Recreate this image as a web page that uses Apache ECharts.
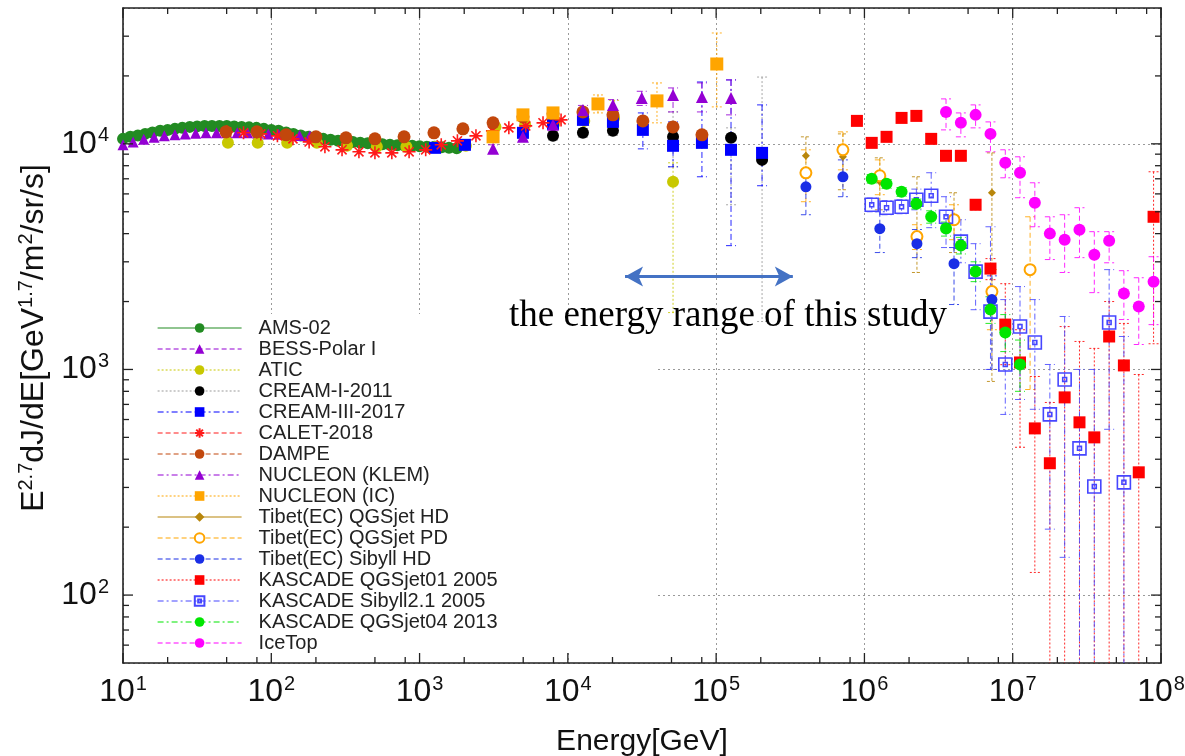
<!DOCTYPE html>
<html>
<head>
<meta charset="utf-8">
<script src="https://cdn.jsdelivr.net/npm/echarts@6/dist/echarts.min.js"></script>
<style>
html, body { margin: 0; padding: 0; background: #fff; }
#main { width: 1185px; height: 756px; }
</style>
</head>
<body>
<div id="main"></div>
<script>
// ---- data (energy in GeV, flux E^2.7 dJ/dE) ----
var amsE = [10, 11.2, 12.6, 14.1, 15.8, 17.8, 20, 22.4, 25.1, 28.2, 31.6, 35.5, 39.8, 44.7, 50.1, 56.2, 63.1, 70.8, 79.4, 89.1, 100, 112, 126, 141, 158, 178, 200, 224, 251, 282, 316, 355, 398, 447, 501, 562, 631, 708, 794, 891, 1000, 1120, 1260, 1410, 1580, 1780];
var amsV = [10520, 10740, 10900, 11070, 11240, 11420, 11530, 11650, 11770, 11890, 11950, 12010, 12010, 12010, 12010, 11950, 11890, 11830, 11770, 11650, 11530, 11420, 11240, 11070, 10900, 10740, 10630, 10520, 10420, 10310, 10260, 10200, 10100, 10050, 10000, 9950, 9900, 9850, 9800, 9800, 9750, 9700, 9700, 9650, 9600, 9550];

var bessE = [10, 11.7, 13.8, 16.2, 19, 22.4, 26.3, 30.9, 36.3, 42.7, 50.1, 58.9, 69.2, 81.3, 95.5, 112, 132, 155, 182];
var bessV = [9900, 10200, 10470, 10690, 10850, 10960, 11070, 11130, 11190, 11190, 11190, 11190, 11190, 11130, 11070, 11020, 10960, 10900, 10850];

var aticE = [51, 81, 128, 203, 324, 515, 815, 1290, 2050, 3250, 5150, 8150, 12900, 20500, 51200];
var aticV = [10100, 10100, 10100, 10100, 9800, 9700, 9700, 9700, 9800, 11890, 12140, 12390, 12640, 13030, 6790];
var aticLo = [9900, 9900, 9900, 9900, 9600, 9500, 9500, 9500, 9600, 11600, 11800, 12000, 12100, 12000, 1787];
var aticHi = [10300, 10300, 10300, 10300, 10000, 9900, 9900, 9900, 10000, 12200, 12500, 12800, 13200, 15600, 8240];

var creamIE = [7940, 12640, 20140, 51200, 126000, 204000];
var creamIV = [10850, 11190, 11420, 10740, 10630, 8490];
var creamILo = [10400, 10700, 10900, 7910, 5370, 1631];
var creamIHi = [11300, 11700, 11950, 13850, 11770, 19770];

var creamIIIE = [1271, 2023, 4980, 7940, 12640, 20140, 32050, 51200, 80200, 126000, 204000];
var creamIIIV = [9600, 9900, 11190, 12260, 12770, 12510, 11530, 9800, 10100, 9407, 9120];
var creamIIILo = [9300, 9600, 10800, 11800, 12200, 11900, 9500, 7910, 7145, 3538, 6520];
var creamIIIHi = [9900, 10200, 11600, 12700, 13300, 13100, 13710, 12510, 18800, 19200, 14880];

var caletE = [50, 65, 85, 110, 140, 180, 230, 300, 390, 500, 650, 850, 1100, 1400, 1800, 2400, 3100, 4000, 5200, 6800, 9000];
var caletV = [11300, 11190, 11070, 10850, 10520, 10200, 9700, 9407, 9218, 9120, 9120, 9218, 9407, 9900, 10310, 10850, 11420, 11770, 12010, 12390, 12770];

var dampeE = [49.5, 80, 126, 200, 319, 500, 786, 1250, 1960, 3130, 4980, 7940, 12640, 20140, 32050, 51200, 80200];
var dampeV = [11300, 11300, 10960, 10740, 10630, 10520, 10740, 11190, 11650, 12390, 13170, 13580, 13850, 13440, 12640, 11890, 10960];

var klemE = [3130, 4980, 7940, 12640, 20140, 31500, 51200, 80200, 126000];
var klemV = [9504, 10740, 12140, 14140, 14880, 15980, 16470, 16140, 15980];
var klemLo = [9100, 10300, 11600, 13500, 14100, 14800, 13850, 13850, 13440];
var klemHi = [9900, 11200, 12700, 14800, 15700, 17100, 17690, 18620, 19200];

var nucIcE = [3130, 4980, 7940, 15960, 39900, 101000];
var nucIcV = [10740, 13440, 13710, 15030, 15500, 22590];
var nucIcLo = [10400, 13000, 13200, 13710, 12390, 14580];
var nucIcHi = [11100, 13900, 14200, 16470, 18620, 31000];

var tibetE = [403000, 716000, 1270000, 2260000, 4020000, 7240000];
var tibetHdV = [8850, 8760, 6790, 5370, 4515, 6070];
var tibetHdLo = [7290, 6260, 5100, 2690, 3297, 885];
var tibetHdHi = [10740, 11070, 8670, 7145, 6070, 9120];

var tibetPdE = [403000, 716000, 1270000, 2260000, 4020000, 7240000, 13100000];
var tibetPdV = [7440, 9407, 7220, 3880, 4610, 2214, 2770];
var tibetPdLo = [5540, 7670, 5950, 3400, 3760, 1500, 815];
var tibetPdHi = [9407, 11300, 8490, 4380, 5370, 2770, 4750];

var tibetSibV = [6450, 7145, 4206, 3610, 2944, 2040];
var tibetSibLo = [4850, 5830, 3297, 3130, 1940, 1000];
var tibetSibHi = [7670, 8490, 5000, 4170, 3470, 2600];

var kasE = [8.9e5, 1.12e6, 1.41e6, 1.78e6, 2.24e6, 2.82e6, 3.55e6, 4.47e6, 5.62e6, 7.08e6, 8.91e6, 1.12e7, 1.41e7, 1.78e7, 2.24e7, 2.82e7, 3.55e7, 4.47e7, 5.62e7, 7.08e7, 8.91e7];
var kasQ01V = [12640, 10100, 10740, 13030, 13300, 10520, 8850, 8850, 5370, 2800, 1581, 1074, 548, 384, 752, 583, 500, 1400, 1042, 350, 4750];
var kasQ01Lo = [12100, 9650, 10250, 12450, 12700, 10050, 8450, 8450, 5100, 2500, 1050, 452, 126, 20, 20, 20, 20, 20, 20, 20, 1300];
var kasQ01Hi = [13200, 10550, 11250, 13600, 13900, 11000, 9250, 9250, 5650, 3100, 2400, 1500, 931, 714, 1549, 1331, 1240, 2000, 1600, 950, 7520];

var kasSibE = [1.12e6, 1.41e6, 1.78e6, 2.24e6, 2.82e6, 3.55e6, 4.47e6, 5.62e6, 7.08e6, 8.91e6, 1.12e7, 1.41e7, 1.78e7, 2.24e7, 2.82e7, 3.55e7, 4.47e7, 5.62e7];
var kasSibV = [5370, 5210, 5260, 5650, 5890, 4750, 3685, 2715, 1805, 1052, 1550, 1317, 632, 903, 447, 303, 1615, 316];
var kasSibLo = [5000, 4850, 4900, 5100, 4250, 3470, 2970, 1840, 1000, 632, 736, 666, 196, 147, 20, 20, 543, 20];
var kasSibHi = [5750, 5600, 5650, 6300, 7445, 5830, 4610, 3610, 4290, 2040, 2330, 2040, 1052, 1717, 1000, 1000, 2770, 1400];

var kasQ04E = [1.12e6, 1.41e6, 1.78e6, 2.24e6, 2.82e6, 3.55e6, 4.47e6, 5.62e6, 7.08e6, 8.91e6, 1.12e7];
var kasQ04V = [7000, 6650, 6130, 5430, 4750, 4210, 3540, 2715, 1842, 1458, 1052];
var kasQ04Lo = [6700, 6350, 5850, 5150, 4450, 3900, 3250, 2450, 1600, 1200, 800];
var kasQ04Hi = [7300, 6950, 6400, 5700, 5050, 4500, 3850, 3000, 2100, 1750, 1350];

var iceE = [3.55e6, 4.47e6, 5.62e6, 7.08e6, 8.91e6, 1.12e7, 1.41e7, 1.78e7, 2.24e7, 2.82e7, 3.55e7, 4.47e7, 5.62e7, 7.08e7, 8.91e7];
var iceV = [13850, 12390, 13440, 11070, 8240, 7440, 5480, 4000, 3760, 4160, 3228, 3720, 2170, 1900, 2450];
var iceLo = [11530, 10740, 11770, 9220, 7070, 5770, 4290, 3070, 2690, 3130, 2190, 2970, 1664, 1290, 1580];
var iceHi = [15820, 13710, 14880, 12510, 9410, 8760, 6720, 4750, 4850, 5210, 4080, 4080, 2740, 2550, 3160];

// arrow marking the studied energy range
var studyE = [24300, 329000];
var studyV = 2580;

var FONT = '"Liberation Sans", Arial, sans-serif';
var DASH = { solid: null, dash: [5, 3], dot: [2, 2], dashdot: [6, 3, 2, 3] };
var ASTERISK = 'path://M0,5L10,5M5,0L5,10M1.5,1.5L8.5,8.5M8.5,1.5L1.5,8.5';
var BOXDOT = 'path://M0,0L10,0L10,10L0,10ZM3.5,3.5L6.5,3.5L6.5,6.5L3.5,6.5Z';

var sets = [
  { name: 'AMS-02', x: amsE, y: amsV, color: '#228b22', symbol: 'circle', size: 12, dash: 'solid' },
  { name: 'BESS-Polar I', x: bessE, y: bessV, color: '#9400d3', symbol: 'triangle', size: 11, dash: 'dash' },
  { name: 'ATIC', x: aticE, y: aticV, lo: aticLo, hi: aticHi, color: '#c8c800', symbol: 'circle', size: 12, dash: 'dot' },
  { name: 'CREAM-I-2011', x: creamIE, y: creamIV, lo: creamILo, hi: creamIHi, color: '#000000', line: '#999999', symbol: 'circle', size: 12, dash: 'dot' },
  { name: 'CREAM-III-2017', x: creamIIIE, y: creamIIIV, lo: creamIIILo, hi: creamIIIHi, color: '#0000ff', symbol: 'rect', size: 12, dash: 'dashdot' },
  { name: 'CALET-2018', x: caletE, y: caletV, color: '#ff1a1a', symbol: ASTERISK, size: 13, dash: 'dash', stroke: true },
  { name: 'DAMPE', x: dampeE, y: dampeV, color: '#c2470c', symbol: 'circle', size: 13, dash: 'dash' },
  { name: 'NUCLEON (KLEM)', x: klemE, y: klemV, lo: klemLo, hi: klemHi, color: '#9400d3', symbol: 'triangle', size: 12, dash: 'dashdot' },
  { name: 'NUCLEON (IC)', x: nucIcE, y: nucIcV, lo: nucIcLo, hi: nucIcHi, color: '#ffa500', symbol: 'rect', size: 13, dash: 'dot' },
  { name: 'Tibet(EC) QGSjet HD', x: tibetE, y: tibetHdV, lo: tibetHdLo, hi: tibetHdHi, color: '#b8860b', symbol: 'diamond', size: 8, dash: 'solid' },
  { name: 'Tibet(EC) QGSjet PD', x: tibetPdE, y: tibetPdV, lo: tibetPdLo, hi: tibetPdHi, color: '#ffa500', symbol: 'emptyCircle', size: 11, dash: 'dash' },
  { name: 'Tibet(EC) Sibyll HD', x: tibetE, y: tibetSibV, lo: tibetSibLo, hi: tibetSibHi, color: '#1a2ee6', symbol: 'circle', size: 11, dash: 'dash' },
  { name: 'KASCADE QGSjet01 2005', x: kasE, y: kasQ01V, lo: kasQ01Lo, hi: kasQ01Hi, color: '#ff0000', symbol: 'rect', size: 12, dash: 'dot' },
  { name: 'KASCADE Sibyll2.1 2005', x: kasSibE, y: kasSibV, lo: kasSibLo, hi: kasSibHi, color: '#4646ff', symbol: BOXDOT, size: 13, dash: 'dashdot', stroke: true, hollow: true },
  { name: 'KASCADE QGSjet04 2013', x: kasQ04E, y: kasQ04V, lo: kasQ04Lo, hi: kasQ04Hi, color: '#00e600', symbol: 'circle', size: 12, dash: 'dashdot' },
  { name: 'IceTop', x: iceE, y: iceV, lo: iceLo, hi: iceHi, color: '#ff00ff', symbol: 'circle', size: 12, dash: 'dash' }
];

// tick positions of the log axes (gnuplot style, drawn on all four sides)
var xMajor = [], xMinor = [], yMajor = [100, 1000, 10000], yMinor = [];
for (var d = 10; d <= 1e8; d *= 10) {
  xMajor.push(d);
  if (d < 1e8) { xMinor.push(2 * d, 5 * d, 8 * d); }
}
for (var d2 = 10; d2 <= 10000; d2 *= 10) {
  for (var m = 2; m <= 9; m++) {
    if (m * d2 > 50 && m * d2 < 40000) yMinor.push(m * d2);
  }
}

function errorItem(color, dash) {
  return function (params, api) {
    var x = api.value(0);
    var top = api.coord([x, api.value(2)]);
    var bot = api.coord([x, api.value(1)]);
    var cap = 5;
    var st = { stroke: color, lineWidth: 1, lineDash: dash, opacity: 0.85 };
    return {
      type: 'group',
      children: [
        { type: 'line', shape: { x1: top[0], y1: top[1], x2: bot[0], y2: bot[1] }, style: st },
        { type: 'line', shape: { x1: top[0] - cap, y1: top[1], x2: top[0] + cap, y2: top[1] }, style: st },
        { type: 'line', shape: { x1: bot[0] - cap, y1: bot[1], x2: bot[0] + cap, y2: bot[1] }, style: st }
      ]
    };
  };
}

function tickItem(axis, len) {
  return function (params, api) {
    var cs = params.coordSys;
    var v = api.value(axis === 'x' ? 0 : 1);
    var segs;
    if (axis === 'x') {
      var px = api.coord([v, 1000])[0];
      segs = [[px, cs.y + cs.height, px, cs.y + cs.height - len], [px, cs.y, px, cs.y + len]];
    } else {
      var py = api.coord([1000, v])[1];
      segs = [[cs.x, py, cs.x + len, py], [cs.x + cs.width, py, cs.x + cs.width - len, py]];
    }
    return {
      type: 'group',
      children: segs.map(function (s) {
        return { type: 'line', shape: { x1: s[0], y1: s[1], x2: s[2], y2: s[3] }, style: { stroke: '#222', lineWidth: 1.3 } };
      })
    };
  };
}

var series = [];
// error bars first so the markers sit on top
sets.forEach(function (s) {
  if (!s.lo) return;
  series.push({
    type: 'custom',
    name: s.name + ' err',
    clip: true,
    silent: true,
    renderItem: errorItem(s.line || s.color, DASH[s.dash] || [3, 2]),
    encode: { x: 0, y: [1, 2] },
    data: s.x.map(function (x, i) { return [x, s.lo[i], s.hi[i]]; })
  });
});
sets.forEach(function (s) {
  var item;
  if (s.stroke) {
    item = { color: s.hollow ? 'rgba(0,0,0,0)' : s.color, borderColor: s.color, borderWidth: 1.6 };
  } else if (s.symbol.indexOf('empty') === 0) {
    item = { color: s.color, borderWidth: 1.8 };
  } else {
    item = { color: s.color };
  }
  series.push({
    type: 'line',
    name: s.name,
    symbol: s.symbol,
    symbolSize: s.size,
    showSymbol: true,
    showAllSymbol: true,
    lineStyle: { opacity: 0, width: 0 },
    itemStyle: item,
    emphasis: { disabled: true },
    data: s.x.map(function (x, i) { return [x, s.y[i]]; })
  });
});
series.push({
  type: 'custom', name: 'xtick-major', silent: true, z: 10,
  renderItem: tickItem('x', 10), data: xMajor.map(function (v) { return [v, 1000]; }),
  markLine: {
    silent: true,
    symbol: ['arrow', 'arrow'],
    symbolSize: [15, 18],
    label: { show: false },
    lineStyle: { color: '#4472c4', width: 3, type: 'solid' },
    data: [[{ coord: [studyE[0], studyV] }, { coord: [studyE[1], studyV] }]]
  }
});
series.push({ type: 'custom', name: 'xtick-minor', silent: true, z: 10, renderItem: tickItem('x', 6), data: xMinor.map(function (v) { return [v, 1000]; }) });
series.push({ type: 'custom', name: 'ytick-major', silent: true, z: 10, renderItem: tickItem('y', 10), data: yMajor.map(function (v) { return [1000, v]; }) });
series.push({ type: 'custom', name: 'ytick-minor', silent: true, z: 10, renderItem: tickItem('y', 6), data: yMinor.map(function (v) { return [1000, v]; }) });

function powLabel(v) {
  var e = Math.round(Math.log(v) / Math.LN10);
  if (Math.abs(v - Math.pow(10, e)) > 1e-6 * v) return '';
  return '{b|10}{s|' + e + '}';
}
var labelRich = {
  b: { fontSize: 32, fontFamily: FONT, color: '#111', lineHeight: 36 },
  s: { fontSize: 20, fontFamily: FONT, color: '#111', verticalAlign: 'top', padding: [0, 0, 0, 1] }
};

var chart = echarts.init(document.getElementById('main'), null, { renderer: 'canvas' });
chart.setOption({
  animation: false,
  backgroundColor: '#ffffff',
  grid: { left: 123, right: 24, top: 8, bottom: 93, containLabel: false, outerBoundsMode: 'none' },
  xAxis: [{
    type: 'log', logBase: 10, min: 10, max: 1e8,
    name: 'Energy[GeV]', nameLocation: 'middle', nameGap: 64,
    nameTextStyle: { fontSize: 30, fontFamily: FONT, color: '#111' },
    axisLine: { lineStyle: { color: '#222', width: 1.6 } },
    axisTick: { show: false },
    axisLabel: { margin: 11, formatter: powLabel, rich: labelRich, showMinLabel: true, showMaxLabel: true },
    splitLine: { show: true, lineStyle: { color: '#9a9a9a', type: [2, 3], width: 1 } }
  }, {
    type: 'log', logBase: 10, min: 10, max: 1e8, position: 'top',
    axisLine: { lineStyle: { color: '#222', width: 1.6 } },
    axisTick: { show: false }, axisLabel: { show: false }, splitLine: { show: false }
  }],
  yAxis: [{
    type: 'log', logBase: 10, min: 50, max: 40000,
    axisLine: { lineStyle: { color: '#222', width: 1.6 } },
    axisTick: { show: false },
    axisLabel: { margin: 14, formatter: powLabel, rich: labelRich },
    splitLine: { show: true, lineStyle: { color: '#9a9a9a', type: [2, 3], width: 1 } }
  }, {
    type: 'log', logBase: 10, min: 50, max: 40000, position: 'right',
    axisLine: { lineStyle: { color: '#222', width: 1.6 } },
    axisTick: { show: false }, axisLabel: { show: false }, splitLine: { show: false }
  }],
  legend: {
    orient: 'vertical',
    left: 125, top: 314,
    padding: [4, 160, 0, 32],
    backgroundColor: '#ffffff',
    itemWidth: 84, itemHeight: 12, itemGap: 1,
    selectedMode: false,
    textStyle: { fontSize: 20, fontFamily: FONT, color: '#222', lineHeight: 19, padding: [0, 0, 0, 12] },
    data: sets.map(function (s) {
      return {
        name: s.name,
        lineStyle: { color: s.line || s.color, width: 1.2, type: DASH[s.dash] || 'solid', opacity: 1 }
      };
    })
  },
  graphic: [{
    type: 'text', left: 509, top: 298, z: 20,
    style: { text: 'the energy range of this study', font: '37px "Liberation Serif", "Times New Roman", serif', fill: '#000' }
  }, {
    type: 'text', x: 34, y: 338, rotation: Math.PI / 2, z: 20,
    style: {
      text: '{b|E}{s|2.7}{b|dJ/dE[GeV}{s|1.7}{b|/m}{s|2}{b|/sr/s]}',
      align: 'center', verticalAlign: 'middle',
      rich: {
        b: { fontSize: 32, fontFamily: FONT, fill: '#111', lineHeight: 36 },
        s: { fontSize: 20, fontFamily: FONT, fill: '#111', verticalAlign: 'top' }
      }
    }
  }],
  series: series
});
</script>
</body>
</html>
